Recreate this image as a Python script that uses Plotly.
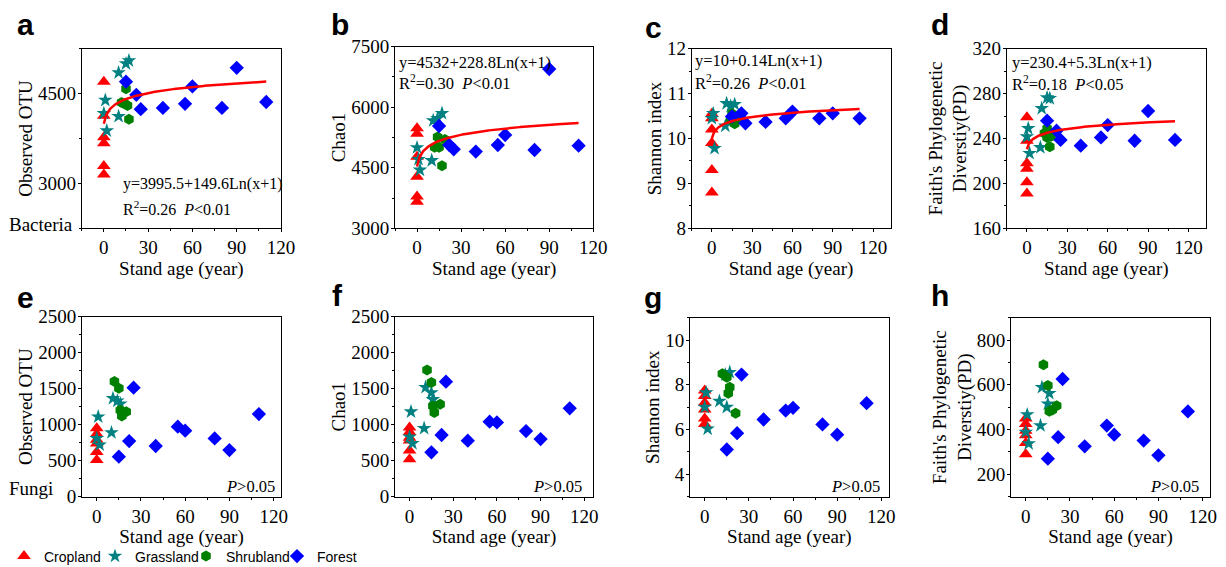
import numpy as np
import plotly.graph_objects as go

# ---------------- data ----------------
age_crop = [0, 0, 0, 0, 0, 0]
age_forest = [15, 22, 25, 40, 55, 60, 80, 90, 110]

# a: bacteria observed OTU
a_crop = [4700, 4130, 3770, 3670, 3290, 3150]
a_grass_x = [1, 0, 2, 10, 10, 15, 17]
a_grass = [4390, 4170, 3880, 4120, 4850, 5000, 5050]
a_shrub_x = [15, 12, 16, 14, 17]
a_shrub = [4580, 4350, 4300, 4330, 4070]
a_forest = [4700, 4480, 4240, 4260, 4330, 4620, 4260, 4930, 4360]
a_fit = [3995.5, 149.6]

# b: bacteria Chao1
b_crop = [5480, 5340, 4770, 4280, 3790, 3660]
b_grass_x = [0, 1, 2, 10, 11, 14, 17]
b_grass = [5000, 4710, 4445, 4680, 5670, 5725, 5850]
b_shrub_x = [14, 12, 15, 17, 19]
b_shrub = [5260, 5010, 5010, 4550, 5200]
b_forest = [5535, 5064, 4957, 4900, 5064, 5312, 4940, 6947, 5048]
b_fit = [4532, 228.8]

# c: bacteria Shannon
c_crop = [10.55, 10.45, 10.2, 9.9, 9.3, 8.8]
c_grass_x = [1, 0, 2, 10, 11, 14, 17]
c_grass = [10.56, 10.45, 9.78, 10.28, 10.78, 10.72, 10.76]
c_shrub_x = [14, 15, 16, 17, 19]
c_shrub = [10.42, 10.55, 10.40, 10.33, 10.45]
c_forest = [10.49, 10.56, 10.34, 10.37, 10.45, 10.6, 10.45, 10.56, 10.45]
c_fit = [10, 0.14]

# d: bacteria Faith's PD
d_crop = [259, 238, 218, 213, 201, 191]
d_grass_x = [1, 0, 2, 10, 11, 15, 17]
d_grass = [249, 241.6, 226.8, 232, 266.8, 276.3, 275.7]
d_shrub_x = [13, 15, 15, 17, 18]
d_shrub = [244.6, 241, 249, 232.7, 242]
d_forest = [255.9, 247, 238.7, 233.6, 241, 252, 238, 264.5, 238.7]
d_fit = [230.4, 5.3]

# e: fungi observed OTU
e_crop = [950, 870, 790, 740, 620, 510]
e_grass_x = [1, 0, 2, 10, 11, 14, 16]
e_grass = [1110, 810, 720, 890, 1365, 1330, 1290]
e_shrub_x = [12, 15, 16, 17, 20]
e_shrub = [1600, 1505, 1200, 1120, 1180]
e_forest = [556, 773, 1514, 704, 972, 917, 810, 648, 1148]

# f: fungi Chao1
f_crop = [960, 900, 820, 780, 640, 520]
f_grass_x = [1, 0, 2, 10, 11, 15, 16]
f_grass = [1180, 830, 740, 950, 1520, 1445, 1350]
f_shrub_x = [12, 15, 16, 17, 21]
f_shrub = [1760, 1585, 1260, 1170, 1285]
f_forest = [616, 857, 1597, 778, 1042, 1032, 912, 801, 1227]

# g: fungi Shannon
g_crop = [7.75, 7.5, 7.2, 6.9, 6.5, 6.25]
g_grass_x = [1, 0, 2, 10, 15, 17, 14]
g_grass = [7.65, 7.0, 6.03, 7.27, 7.0, 8.56, 8.45]
g_shrub_x = [12, 15, 17, 16, 21]
g_shrub = [8.49, 8.34, 7.89, 7.62, 6.73]
g_forest = [5.11, 5.84, 8.46, 6.45, 6.85, 6.97, 6.23, 5.77, 7.18]

# h: fungi Faith's PD
h_crop = [450, 425, 395, 375, 340, 290]
h_grass_x = [1, 0, 2, 10, 11, 16, 15]
h_grass = [467, 389, 337, 418, 589, 562, 515]
h_shrub_x = [12, 15, 16, 18, 21]
h_shrub = [690, 597, 482, 488, 507]
h_forest = [270, 366, 626, 325, 418, 377, 351, 285, 481]

x_ticks = [0, 30, 60, 90, 120]
categories = ["Cropland", "Grassland", "Shrubland", "Forest"]

# ---------------- layout helpers ----------------
# the page body adds an 8 px margin, so positions are offset by 8 px
OFF = 8
W, H = 1226, 567
SERIF = "Liberation Serif"
SANS = "Liberation Sans"


def fx(p):
    return (p - OFF) / W


def fy(p):
    return 1 - (p - OFF) / H


styles = {
    "Cropland": dict(symbol="triangle-up", color="#FF0000", size=12),
    "Grassland": dict(symbol="star", color="#008080", size=11),
    "Shrubland": dict(symbol="hexagon", color="#008000", size=11),
    "Forest": dict(symbol="diamond", color="#0000FF", size=11),
}

panels = [
    dict(bx=(81.7, 281), by=(48.7, 228.3), xr=[-15, 120], yr=[2250, 5250],
         ytv=[3000, 4500], ymin=750, title="Observed OTU",
         data=(a_crop, a_grass_x, a_grass, a_shrub_x, a_shrub, a_forest), fit=a_fit),
    dict(bx=(395, 593.3), by=(46.7, 228.3), xr=[-15, 120], yr=[3000, 7500],
         ytv=[3000, 4500, 6000, 7500], ymin=750, title="Chao1",
         data=(b_crop, b_grass_x, b_grass, b_shrub_x, b_shrub, b_forest), fit=b_fit),
    dict(bx=(691.7, 890.5), by=(48.7, 228.3), xr=[-15, 133], yr=[8, 12],
         ytv=[8, 9, 10, 11, 12], ymin=0.5, title="Shannon index",
         data=(c_crop, c_grass_x, c_grass, c_shrub_x, c_shrub, c_forest), fit=c_fit),
    dict(bx=(1006.7, 1206), by=(48.7, 228.3), xr=[-15, 133], yr=[160, 320],
         ytv=[160, 200, 240, 280, 320], ymin=20, title="Faith's Phylogenetic<br>Diverstiy(PD)",
         data=(d_crop, d_grass_x, d_grass, d_shrub_x, d_shrub, d_forest), fit=d_fit),
    dict(bx=(82, 281), by=(316.7, 496.7), xr=[-10, 125], yr=[0, 2500],
         ytv=[0, 500, 1000, 1500, 2000, 2500], ymin=250, title="Observed OTU",
         data=(e_crop, e_grass_x, e_grass, e_shrub_x, e_shrub, e_forest), fit=None),
    dict(bx=(395, 593), by=(316.7, 496.7), xr=[-10, 126], yr=[0, 2500],
         ytv=[0, 500, 1000, 1500, 2000, 2500], ymin=250, title="Chao1",
         data=(f_crop, f_grass_x, f_grass, f_shrub_x, f_shrub, f_forest), fit=None),
    dict(bx=(690, 888.7), by=(317.7, 496.7), xr=[-10, 125], yr=[3, 11],
         ytv=[4, 6, 8, 10], ymin=1, title="Shannon index",
         data=(g_crop, g_grass_x, g_grass, g_shrub_x, g_shrub, g_forest), fit=None),
    dict(bx=(1011, 1210), by=(317.7, 496.7), xr=[-10, 125], yr=[100, 900],
         ytv=[200, 400, 600, 800], ymin=100, title="Faith's Phylogenetic<br>Diverstiy(PD)",
         data=(h_crop, h_grass_x, h_grass, h_shrub_x, h_shrub, h_forest), fit=None),
]

fig = go.Figure()
layout_axes = {}

for i, p in enumerate(panels):
    n = "" if i == 0 else str(i + 1)
    xa, ya = "x" + n, "y" + n
    crop, gx, gy, sx, sy, fo = p["data"]
    series = [
        ("Cropland", age_crop, crop),
        ("Grassland", gx, gy),
        ("Shrubland", sx, sy),
        ("Forest", age_forest, fo),
    ]
    for name, xs, ys in series:
        st = styles[name]
        fig.add_trace(go.Scatter(
            x=xs, y=ys, mode="markers", name=name, legendgroup=name,
            showlegend=(i == 0), xaxis=xa, yaxis=ya, cliponaxis=False,
            marker=dict(symbol=st["symbol"], color=st["color"], size=st["size"],
                        line=dict(width=0)),
        ))
    if p["fit"] is not None:
        a0, a1 = p["fit"]
        xf = np.linspace(0, 110, 300)
        fig.add_trace(go.Scatter(
            x=xf, y=a0 + a1 * np.log(xf + 1), mode="lines", showlegend=False,
            xaxis=xa, yaxis=ya, line=dict(color="#FF0000", width=2.5),
            hoverinfo="skip",
        ))

    axis_common = dict(
        showline=True, linecolor="black", linewidth=1, mirror=True,
        showgrid=False, zeroline=False, ticks="outside", ticklen=3,
        tickcolor="black", tickwidth=1, automargin=False,
        tickfont=dict(family=SERIF, size=19, color="black"),
    )
    layout_axes["xaxis" + n] = dict(
        axis_common, domain=[fx(p["bx"][0]), fx(p["bx"][1])], anchor=ya,
        range=p["xr"], tickmode="array", tickvals=x_ticks, ticklabelstandoff=-1,
        minor=dict(dtick=15, tick0=0, ticks="outside", ticklen=2, tickcolor="black"),
        title=dict(text="Stand age (year)", standoff=0,
                   font=dict(family=SERIF, size=19, color="black")),
    )
    layout_axes["yaxis" + n] = dict(
        axis_common, domain=[fy(p["by"][1]), fy(p["by"][0])], anchor=xa,
        range=p["yr"], tickmode="array", tickvals=p["ytv"], ticklabelstandoff=-2,
        minor=dict(dtick=p["ymin"], tick0=0, ticks="outside", ticklen=2, tickcolor="black"),
        title=dict(text=p["title"], standoff=0,
                   font=dict(family=SERIF, size=19, color="black")),
    )

fig.update_layout(**layout_axes)

ann = []


def txt(text, x, y, size=16.5, xanchor="left", family=SERIF, bold=False):
    ann.append(dict(text=("<b>%s</b>" % text) if bold else text, x=fx(x), y=fy(y),
                    xref="paper", yref="paper", xanchor=xanchor, yanchor="middle",
                    showarrow=False, font=dict(family=family, size=size, color="black")))


# panel letters
letters = [("a", 15, 25), ("b", 329, 25), ("c", 643, 27), ("d", 929, 25),
           ("e", 15, 297), ("f", 330, 295), ("g", 642, 297), ("h", 929, 295)]
for l, x, y in letters:
    txt(l, x, y, size=30, family=SANS, bold=True)

# equations
txt("y=3995.5+149.6Ln(x+1)", 121, 184, size=16)
txt("R<sup>2</sup>=0.26  <i>P</i>&lt;0.01", 121, 208, size=16)
txt("y=4532+228.8Ln(x+1)", 397, 62)
txt("R<sup>2</sup>=0.30  <i>P</i>&lt;0.01", 397, 82)
txt("y=10+0.14Ln(x+1)", 693, 61)
txt("R<sup>2</sup>=0.26  <i>P</i>&lt;0.01", 693, 82)
txt("y=230.4+5.3Ln(x+1)", 1010, 62)
txt("R<sup>2</sup>=0.18  <i>P</i>&lt;0.05", 1010, 83)

for xr_ in (277, 584, 882, 1201):
    txt("<i>P</i>&gt;0.05", xr_, 486, size=16.5, xanchor="right")

txt("Bacteria", 7, 224, size=19)
txt("Fungi", 7, 488, size=19)

fig.update_layout(
    width=W, height=H,
    margin=dict(l=0, r=0, t=0, b=0),
    paper_bgcolor="white", plot_bgcolor="white",
    annotations=ann,
    showlegend=True,
    legend=dict(orientation="h", xref="paper", yref="paper",
                x=0, y=fy(556.5), xanchor="left", yanchor="middle",
                font=dict(family=SANS, size=14, color="black"),
                itemwidth=30, entrywidth=50, entrywidthmode="pixels", indentation=-4,
                tracegroupgap=0, bgcolor="rgba(0,0,0,0)"),
)

fig.write_html("out.html")
